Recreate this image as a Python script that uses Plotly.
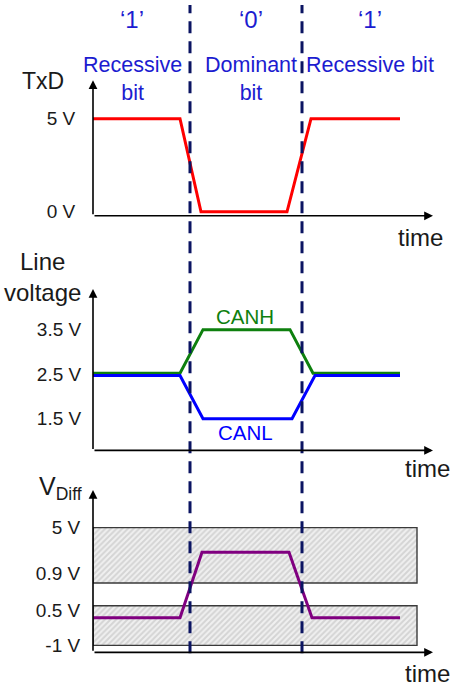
import plotly.graph_objects as go

W, H = 452, 693

# ---------------- data ----------------
# time in arbitrary units (one bit ~ 11.2 units)
bit_edges = [9.7, 20.9]
time_axis_end = 34.0

txd_t = [0, 8.7, 10.8, 19.4, 21.8, 30.7]
txd_v = [5, 5, 0, 0, 5, 5]

canh_t = [0, 8.7, 11.0, 19.7, 22.0, 30.7]
canh_v = [2.52, 2.52, 3.5, 3.5, 2.52, 2.52]

canl_t = [0, 8.7, 11.0, 19.9, 22.2, 30.7]
canl_v = [2.47, 2.47, 1.5, 1.5, 2.47, 2.47]

# differential voltage on a schematic (non-linear) level scale
vdiff_t = [0, 8.7, 10.9, 19.6, 21.9, 30.7]
vdiff_level = [3.5, 3.5, 10.1, 10.1, 3.5, 3.5]
band_t_end = 32.4
band_recessive = [0.7, 4.7]   # -1 V .. 0.5 V
band_dominant = [7.0, 12.6]   # 0.9 V .. 5 V

txd_ticks = [0, 5]
txd_ticktext = ["0 V", "5 V"]
line_ticks = [1.5, 2.5, 3.5]
line_ticktext = ["1.5 V", "2.5 V", "3.5 V"]
vdiff_ticks = [0.7, 4.2, 8.0, 12.6]
vdiff_ticktext = ["-1 V", "0.5 V", "0.9 V", "5 V"]

bit_values = ["\u20181\u2019", "\u20180\u2019", "\u20181\u2019"]
bit_names = ["Recessive<br>bit", "Dominant<br>bit", "Recessive bit"]

# ---------------- helpers ----------------
def px(x):
    return x / W

def py(y):
    return 1 - y / H

FONT = "Liberation Sans, Arial, sans-serif"
RED = "#ff0000"
GREEN = "#0e800e"
BLUE = "#0000ff"
PURPLE = "#800080"
TXTBLUE = "#1c1cd0"
NAVY = "#0b1462"

x_dom = [px(93), 1.0]
x_rng = [0, (W - 93) / 10]

panels = {
    1: dict(dom=[py(218), py(81)], rng=[-0.213, 7.07]),
    2: dict(dom=[py(455), py(292)], rng=[0.789, 4.411]),
    3: dict(dom=[py(659), py(495)], rng=[0, 16.4]),
}

fig = go.Figure()

# hatched threshold bands
for band in (band_dominant, band_recessive):
    fig.add_trace(go.Scatter(
        x=[0, band_t_end, band_t_end, 0, 0],
        y=[band[0], band[0], band[1], band[1], band[0]],
        fill="toself",
        fillcolor="rgba(0,0,0,0)",
        fillpattern=dict(shape="/", fgcolor="#b8b8b8", bgcolor="#f0f0f0",
                         size=4, solidity=0.5),
        line=dict(color="#3a3a3a", width=1.4),
        mode="lines", xaxis="x3", yaxis="y3", hoverinfo="skip",
        showlegend=False))

fig.add_trace(go.Scatter(x=txd_t, y=txd_v, mode="lines",
                         line=dict(color=RED, width=3),
                         xaxis="x", yaxis="y", showlegend=False, cliponaxis=False))
fig.add_trace(go.Scatter(x=canh_t, y=canh_v, mode="lines",
                         line=dict(color=GREEN, width=3),
                         xaxis="x2", yaxis="y2", showlegend=False, cliponaxis=False))
fig.add_trace(go.Scatter(x=canl_t, y=canl_v, mode="lines",
                         line=dict(color=BLUE, width=3),
                         xaxis="x2", yaxis="y2", showlegend=False, cliponaxis=False))
fig.add_trace(go.Scatter(x=vdiff_t, y=vdiff_level, mode="lines",
                         line=dict(color=PURPLE, width=3),
                         xaxis="x3", yaxis="y3", showlegend=False, cliponaxis=False))

layout = dict(
    width=W, height=H,
    margin=dict(l=0, r=0, t=0, b=0),
    paper_bgcolor="white", plot_bgcolor="rgba(0,0,0,0)",
    showlegend=False,
    font=dict(family=FONT, color="#1a1a1a"),
)
tick_sets = {1: (txd_ticks, txd_ticktext, 13),
             2: (line_ticks, line_ticktext, 7),
             3: (vdiff_ticks, vdiff_ticktext, 8)}
for i, p in panels.items():
    s = "" if i == 1 else str(i)
    layout["xaxis" + s] = dict(domain=x_dom, range=x_rng, anchor="y" + s,
                               showgrid=False, zeroline=False, showline=False,
                               showticklabels=False, ticks="", fixedrange=True)
    tv, tt, tl = tick_sets[i]
    layout["yaxis" + s] = dict(domain=p["dom"], range=p["rng"], anchor="x" + s,
                               showgrid=False, zeroline=False, showline=False,
                               tickvals=tv, ticktext=tt, ticks="outside",
                               ticklen=tl, tickcolor="rgba(0,0,0,0)",
                               tickfont=dict(size=19, family=FONT, color="#1a1a1a"),
                               fixedrange=True)
fig.update_layout(**layout)

annotations = []
# axis arrows
for i, p in panels.items():
    s = "" if i == 1 else str(i)
    y0, y1 = p["rng"]
    annotations.append(dict(x=time_axis_end, y=y0, ax=0, ay=y0,
                            xref="x" + s, yref="y" + s, axref="x" + s, ayref="y" + s,
                            showarrow=True, arrowhead=2, arrowsize=1.1,
                            arrowwidth=1.6, arrowcolor="black", text=""))
    annotations.append(dict(x=0, y=y1, ax=0, ay=y0,
                            xref="x" + s, yref="y" + s, axref="x" + s, ayref="y" + s,
                            showarrow=True, arrowhead=2, arrowsize=1.1,
                            arrowwidth=1.6, arrowcolor="black", text=""))


def label(xv, yv, text, size, color="#1a1a1a", xanchor="center"):
    annotations.append(dict(x=px(xv), y=py(yv), xref="paper", yref="paper",
                            xanchor=xanchor, yanchor="middle",
                            text=text, showarrow=False,
                            font=dict(size=size, color=color, family=FONT)))


# bit headers
hdr_x = [132, 251, 370]
for xv, val, name in zip(hdr_x, bit_values, bit_names):
    label(xv, 20, val, 24, TXTBLUE)
    label(xv, 80 if "<br>" in name else 66, name, 21.5, TXTBLUE)

# panel labels
label(43, 82, "TxD", 23)
label(42, 280, "Line<br>voltage", 24)
label(37, 493, "V<sub>Diff</sub>", 25, xanchor="left")
for (xv, yv) in [(420, 240), (427, 473), (427, 680)]:
    label(xv, yv, "time", 24)
label(245, 320, "CANH", 20.5, GREEN)
label(245, 437, "CANL", 20.5, BLUE)

shapes = []
for xe in bit_edges:
    shapes.append(dict(type="line", xref="x", yref="paper",
                       x0=xe, x1=xe, y0=py(660), y1=py(5),
                       line=dict(color=NAVY, width=3, dash="12px,8px"),
                       layer="above"))

fig.update_layout(annotations=annotations, shapes=shapes)
fig.write_html("out.html", config={"displayModeBar": False},
               post_script="document.body.style.margin='0px';")
